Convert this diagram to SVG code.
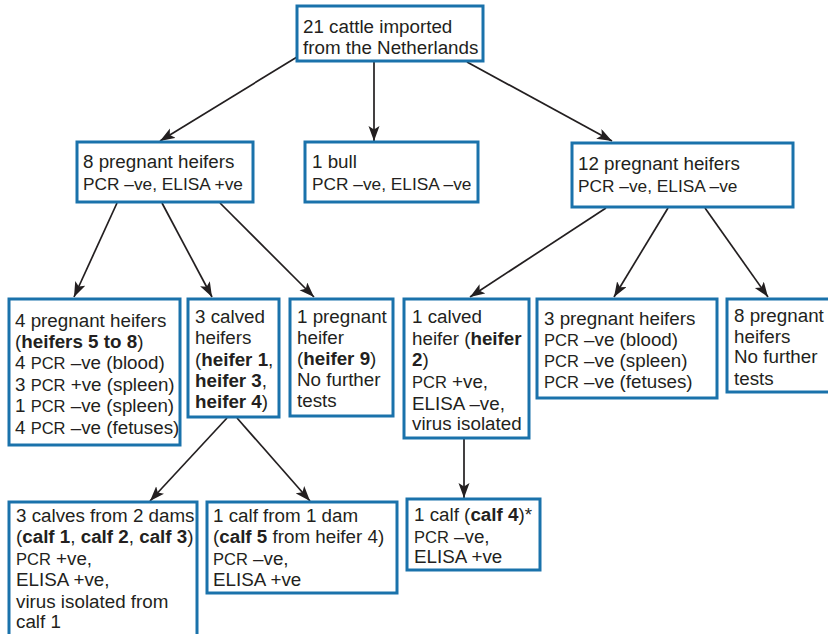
<svg xmlns="http://www.w3.org/2000/svg" width="828" height="634" viewBox="0 0 828 634">
<style>
.box{fill:#fff;stroke:#1a72ab;stroke-width:3}
text{font-family:"Liberation Sans",Arial,sans-serif;font-size:18.8px;fill:#231f20}
.s{font-size:17.3px}
.p{font-size:16.5px}
.b{font-weight:bold}
.c{stroke:#231f20;stroke-width:1.7;fill:none;marker-end:url(#ah)}
</style>
<defs>
<marker id="ah" markerUnits="userSpaceOnUse" markerWidth="16" markerHeight="12" refX="15" refY="5.5" orient="auto">
<path d="M0,0 L15,5.5 L0,11 L3.5,5.5 z" fill="#231f20"/>
</marker>
</defs>
<rect width="828" height="634" fill="#fff"/>
<g id="connectors">
<line class="c" x1="297" y1="57" x2="160" y2="141"/>
<line class="c" x1="374" y1="62" x2="374" y2="141"/>
<line class="c" x1="467" y1="62" x2="612" y2="141"/>
<line class="c" x1="117" y1="203" x2="74" y2="297"/>
<line class="c" x1="162" y1="203" x2="212" y2="297"/>
<line class="c" x1="220" y1="203" x2="314" y2="297"/>
<line class="c" x1="606" y1="208" x2="470" y2="297"/>
<line class="c" x1="668" y1="208" x2="614" y2="297"/>
<line class="c" x1="705" y1="208" x2="768" y2="297"/>
<line class="c" x1="227" y1="418" x2="150" y2="501"/>
<line class="c" x1="237" y1="418" x2="310" y2="501"/>
<line class="c" x1="464" y1="439" x2="464" y2="498"/>
</g>
<g id="n-root">
<rect class="box" x="297" y="6" width="186" height="55"/>
<text x="303" y="33">21 cattle imported</text>
<text x="303" y="54">from the Netherlands</text>
</g>
<g id="n-8preg">
<rect class="box" x="77" y="142" width="176" height="60"/>
<text x="83" y="168">8 pregnant heifers</text>
<text class="s" x="83" y="190">PCR –ve, ELISA +ve</text>
</g>
<g id="n-bull">
<rect class="box" x="305" y="142" width="173" height="60"/>
<text x="312" y="168">1 bull</text>
<text class="s" x="312" y="190">PCR –ve, ELISA –ve</text>
</g>
<g id="n-12preg">
<rect class="box" x="572" y="143" width="221" height="64"/>
<text x="578" y="170">12 pregnant heifers</text>
<text class="s" x="578" y="192">PCR –ve, ELISA –ve</text>
</g>
<g id="n-4preg">
<rect class="box" x="9" y="299" width="171" height="146"/>
<text x="15" y="326.5">4 pregnant heifers</text>
<text x="15" y="348">(<tspan class="b">heifers 5 to 8</tspan>)</text>
<text x="15" y="369">4 <tspan class="p">PCR</tspan> –ve (blood)</text>
<text x="15" y="390.5">3 <tspan class="p">PCR</tspan> +ve (spleen)</text>
<text x="15" y="412">1 <tspan class="p">PCR</tspan> –ve (spleen)</text>
<text x="15" y="433.5">4 <tspan class="p">PCR</tspan> –ve (fetuses)</text>
</g>
<g id="n-3calved">
<rect class="box" x="188" y="299" width="91" height="118"/>
<text x="195" y="323">3 calved</text>
<text x="195" y="344">heifers</text>
<text x="195" y="366">(<tspan class="b">heifer 1</tspan>,</text>
<text x="195" y="387"><tspan class="b">heifer 3</tspan>,</text>
<text x="195" y="408"><tspan class="b">heifer 4</tspan>)</text>
</g>
<g id="n-1preg">
<rect class="box" x="290" y="299" width="103" height="117"/>
<text x="297" y="323">1 pregnant</text>
<text x="297" y="343.5">heifer</text>
<text x="297" y="364.5">(<tspan class="b">heifer 9</tspan>)</text>
<text x="297" y="386">No further</text>
<text x="297" y="407">tests</text>
</g>
<g id="n-1calved">
<rect class="box" x="404" y="299" width="125" height="139"/>
<text x="412" y="323">1 calved</text>
<text x="412" y="344.5">heifer (<tspan class="b">heifer</tspan></text>
<text x="412" y="366"><tspan class="b">2</tspan>)</text>
<text x="412" y="388"><tspan class="p">PCR</tspan> +ve,</text>
<text x="412" y="409.5">ELISA –ve,</text>
<text x="412" y="430">virus isolated</text>
</g>
<g id="n-3preg">
<rect class="box" x="537" y="299" width="180" height="99"/>
<text x="544" y="324.5">3 pregnant heifers</text>
<text x="544" y="346"><tspan class="p">PCR</tspan> –ve (blood)</text>
<text x="544" y="367"><tspan class="p">PCR</tspan> –ve (spleen)</text>
<text x="544" y="388"><tspan class="p">PCR</tspan> –ve (fetuses)</text>
</g>
<g id="n-8pregnt">
<rect class="box" x="727" y="299" width="115" height="93"/>
<text x="734" y="321.5">8 pregnant</text>
<text x="734" y="343">heifers</text>
<text x="734" y="363">No further</text>
<text x="734" y="384.5">tests</text>
</g>
<g id="n-3calves">
<rect class="box" x="9" y="502" width="188" height="145"/>
<text x="16" y="521.5">3 calves from 2 dams</text>
<text x="16" y="543">(<tspan class="b">calf 1</tspan>, <tspan class="b">calf 2</tspan>, <tspan class="b">calf 3</tspan>)</text>
<text x="16" y="564.5"><tspan class="p">PCR</tspan> +ve,</text>
<text x="16" y="586">ELISA +ve,</text>
<text x="16" y="608">virus isolated from</text>
<text x="16" y="628">calf 1</text>
</g>
<g id="n-calf5">
<rect class="box" x="207" y="502" width="190" height="91"/>
<text x="213" y="521.5">1 calf from 1 dam</text>
<text x="213" y="543">(<tspan class="b">calf 5</tspan> from heifer 4)</text>
<text x="213" y="564.5"><tspan class="p">PCR</tspan> –ve,</text>
<text x="213" y="586">ELISA +ve</text>
</g>
<g id="n-calf4">
<rect class="box" x="407" y="499" width="133" height="71"/>
<text x="414" y="521">1 calf (<tspan class="b">calf 4</tspan>)*</text>
<text x="414" y="543"><tspan class="p">PCR</tspan> –ve,</text>
<text x="414" y="563">ELISA +ve</text>
</g>
</svg>
